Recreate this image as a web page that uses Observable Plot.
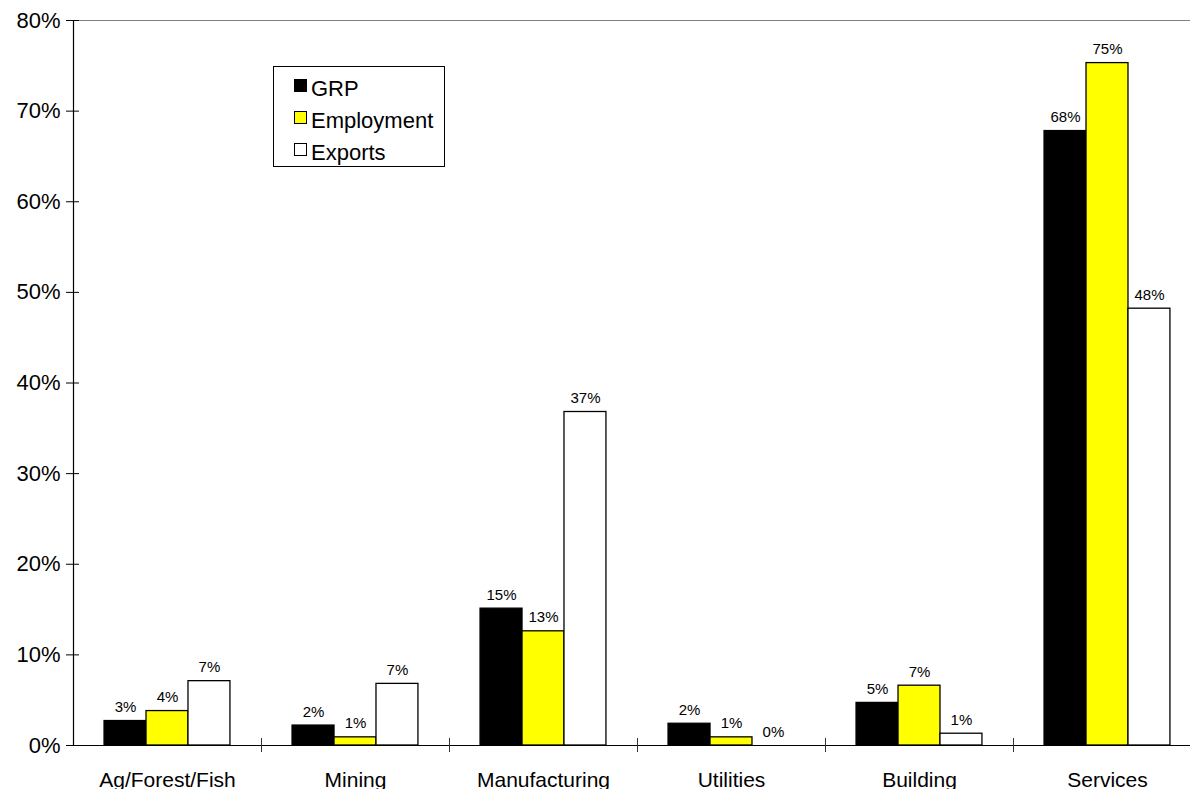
<!DOCTYPE html>
<html>
<head>
<meta charset="utf-8">
<script src="https://cdn.jsdelivr.net/npm/d3@7"></script>
<script src="https://cdn.jsdelivr.net/npm/@observablehq/plot@0.6"></script>
<style>
  html, body { margin: 0; padding: 0; background: white; overflow: hidden; }
  #wrap { position: relative; width: 1190px; height: 789px; overflow: hidden; font-family: "Liberation Sans", Arial, sans-serif; }
  #legend { position: absolute; left: 273px; top: 66px; width: 172px; height: 101px; border: 1px solid #000; background: #fff; box-sizing: border-box; }
  #legend .sw { position: absolute; left: 20px; width: 13px; height: 13px; border: 1px solid #000; box-sizing: border-box; }
  #legend .lb { position: absolute; left: 37px; font-size: 22px; line-height: 22px; color: #000; white-space: nowrap; }
</style>
</head>
<body>
<div id="wrap"><div id="legend"></div></div>
<script>
// Industry sectors along the x axis
const categories = ["Ag/Forest/Fish", "Mining", "Manufacturing", "Utilities", "Building", "Services"];
// The three measures compared within each sector
const series = ["GRP", "Employment", "Exports"];
const seriesColors = ["#000000", "#ffff00", "#ffffff"];
// Shares by sector
const grp        = [0.027, 0.022, 0.151, 0.024, 0.047, 0.678];
const employment = [0.038, 0.009, 0.126, 0.009, 0.066, 0.753];
const exports    = [0.071, 0.068, 0.368, 0.000, 0.013, 0.482];
// Y axis tick values
const yTicks = [0, 0.1, 0.2, 0.3, 0.4, 0.5, 0.6, 0.7, 0.8];

const valuesBySeries = {GRP: grp, Employment: employment, Exports: exports};
const rows = categories.flatMap((category, i) =>
  series.map(s => ({category, i, series: s, value: valuesBySeries[s][i]}))
);

// Position of each measure inside a sector's unit-wide slot
const sub = d3.scaleBand().domain(series).range([0, 1]).paddingInner(0).paddingOuter(0.74);
const x1 = d => d.i + sub(d.series);
const x2 = d => d.i + sub(d.series) + sub.bandwidth();
const xc = d => d.i + sub(d.series) + sub.bandwidth() / 2;
const pct = d3.format(".0%");

const chart = Plot.plot({
  width: 1190,
  height: 789,
  marginLeft: 73,
  marginRight: 0,
  marginTop: 20,
  marginBottom: 44,
  style: {fontFamily: "'Liberation Sans', Arial, sans-serif", background: "white", color: "#000"},
  x: {type: "linear", domain: [0, categories.length], range: [73, 1201], axis: null},
  y: {domain: [0, 0.8], axis: null},
  color: {domain: series, range: seriesColors},
  marks: [
    Plot.rectY(rows, {x1, x2, y: "value", fill: "series", stroke: "#000", strokeWidth: 1.3}),
    Plot.text(rows, {x: xc, y: "value", text: d => pct(d.value), dy: -9, lineAnchor: "bottom", fontSize: 15, fill: "#000"}),
    Plot.ruleY([0.8], {stroke: "#808080", strokeWidth: 1.2}),
    Plot.ruleY([0], {stroke: "#000", strokeWidth: 1.2}),
    Plot.ruleX([0], {stroke: "#000", strokeWidth: 1.2}),
    Plot.axisY({ticks: yTicks, tickFormat: pct, tickSize: 13, dx: 6, tickPadding: 6, fontSize: 22, stroke: "#000", label: null}),
    Plot.axisX({ticks: d3.range(1, categories.length), tickFormat: () => "", tickSize: 14, dy: -7, stroke: "#333", label: null}),
    Plot.axisX({ticks: categories.map((_, i) => i + 0.5), tickFormat: d => categories[Math.floor(d)], tickSize: 0, tickPadding: 27, fontSize: 21, label: null})
  ]
});
document.getElementById("wrap").prepend(chart);

// Legend box
const legend = document.getElementById("legend");
series.forEach((s, k) => {
  const sw = document.createElement("span");
  sw.className = "sw";
  sw.style.top = (12 + 32 * k) + "px";
  sw.style.background = seriesColors[k];
  legend.appendChild(sw);
  const lb = document.createElement("span");
  lb.className = "lb";
  lb.style.top = (11 + 32 * k) + "px";
  lb.textContent = s;
  legend.appendChild(lb);
});
</script>
</body>
</html>
